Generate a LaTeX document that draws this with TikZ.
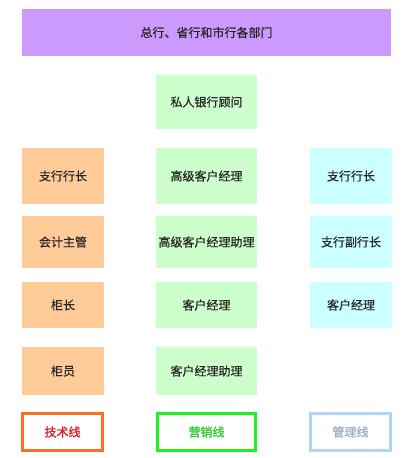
\documentclass[tikz,border=0pt]{standalone}
\usepackage{fontspec}
\newfontfamily\cjk[FakeBold=0.6]{Noto Sans CJK SC}
\newfontfamily\cjkb[FakeBold=1.6]{Noto Sans CJK SC}
\begin{document}
\begin{tikzpicture}[x=1pt,y=-1pt,
  box/.style={inner sep=0pt,font=\cjk\fontsize{12}{14}\selectfont,text=black!85},
  purplebox/.style={box,fill=purplefill},
  greenbox/.style={box,fill=greenfill},
  orangebox/.style={box,fill=orangefill},
  cyanbox/.style={box,fill=cyanfill},
  linebox/.style={box,font=\cjkb\fontsize{12}{14}\selectfont,fill=white,line width=3pt,minimum width=80pt,minimum height=37pt}]
\definecolor{purplefill}{HTML}{CC99FF}
\definecolor{greenfill}{HTML}{CCFFCC}
\definecolor{orangefill}{HTML}{FFCC99}
\definecolor{cyanfill}{HTML}{CCFFFF}
\definecolor{techline}{HTML}{FF6E1E}
\definecolor{techtext}{HTML}{E0202A}
\definecolor{salesline}{HTML}{22EE22}
\definecolor{salestext}{HTML}{33CC33}
\definecolor{mgmtline}{HTML}{B0D4F8}
\definecolor{mgmttext}{HTML}{A0AEC8}
\useasboundingbox[fill=white] (0,0) rectangle (410,458);
\node[purplebox,minimum width=369pt,minimum height=47pt] (hq) at (206.5,32.5) {总行、省行和市行各部门};
\node[greenbox,minimum width=101pt,minimum height=54pt] (pb) at (206.5,102) {私人银行顾问};
% row 1
\node[orangebox,minimum width=82pt,minimum height=56pt] (l1) at (63,176) {支行行长};
\node[greenbox,minimum width=101pt,minimum height=56pt] (m1) at (206.5,176) {高级客户经理};
\node[cyanbox,minimum width=82pt,minimum height=56pt] (r1) at (351,176) {支行行长};
% row 2
\node[orangebox,minimum width=82pt,minimum height=52pt] (l2) at (63,242) {会计主管};
\node[greenbox,minimum width=101pt,minimum height=52pt] (m2) at (206.5,242) {高级客户经理助理};
\node[cyanbox,minimum width=82pt,minimum height=52pt] (r2) at (351,242) {支行副行长};
% row 3
\node[orangebox,minimum width=82pt,minimum height=46pt] (l3) at (63,305) {柜长};
\node[greenbox,minimum width=101pt,minimum height=46pt] (m3) at (206.5,305) {客户经理};
\node[cyanbox,minimum width=82pt,minimum height=46pt] (r3) at (351,305) {客户经理};
% row 4
\node[orangebox,minimum width=82pt,minimum height=48pt] (l4) at (63,371) {柜员};
\node[greenbox,minimum width=101pt,minimum height=48pt] (m4) at (206.5,371) {客户经理助理};
% legend
\node[linebox,draw=techline,text=techtext] (tech) at (62.5,432) {技术线};
\node[linebox,draw=salesline,text=salestext,minimum width=98pt] (sales) at (206.5,432) {营销线};
\node[linebox,draw=mgmtline,text=mgmttext] (mgmt) at (350.5,432) {管理线};
\end{tikzpicture}
\end{document}
